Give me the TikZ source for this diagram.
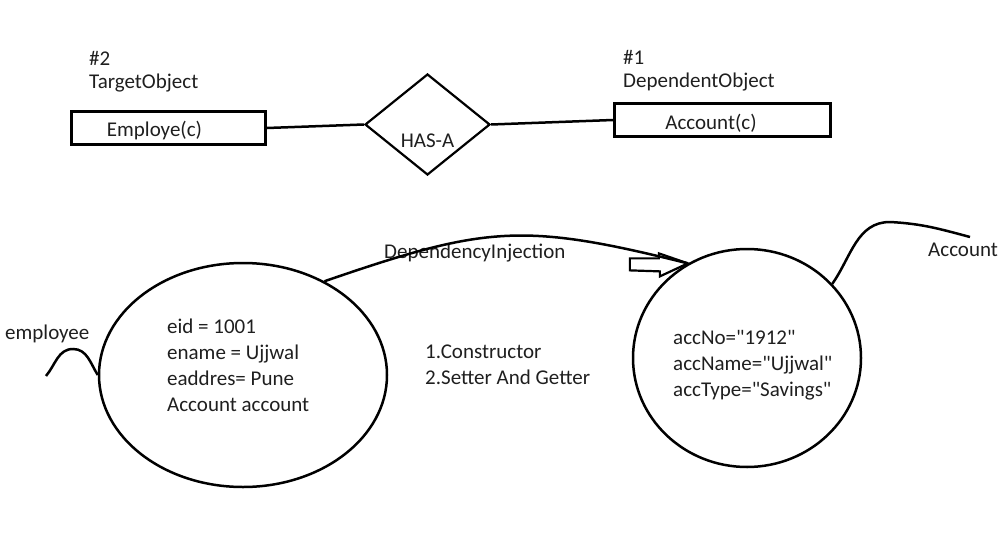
\documentclass[tikz,border=0pt]{standalone}
\usepackage{fontspec}
\setmainfont{Carlito}[Ligatures=TeXOff]
\usetikzlibrary{shapes.geometric}
\begin{document}
\begin{tikzpicture}[x=1pt,y=-1pt,
  txt/.style={font=\fontsize{21}{26}\selectfont, inner sep=0pt, anchor=west, align=left, text=black!88},
  ctxt/.style={font=\fontsize{21}{26}\selectfont, inner sep=0pt, text=black!88},
  box/.style={draw, line width=3pt, inner sep=0pt, minimum height=33pt},
  dia/.style={draw, diamond, line width=2.2pt, inner sep=0pt, minimum width=125pt, minimum height=101pt},
  blob/.style={draw, ellipse, line width=2.5pt, inner sep=0pt},
  conn/.style={line width=2.5pt},
  thin/.style={line width=2.2pt, line join=miter}]
\useasboundingbox (0,0) rectangle (1006,551);
% top row
\node[txt] (n2) at (89,58) {\#2};
\node[txt] (tobj) at (89,83) {TargetObject};
\node[txt] (n1) at (623,57) {\#1};
\node[txt] (dobj) at (623,82) {DependentObject};
\node[box, minimum width=194pt] (emp) at (168.5,128) {};
\node[ctxt] (empt) at (154.5,131) {Employe(c)};
\node[box, minimum width=216pt] (acc) at (722.5,120) {};
\node[ctxt] (acct) at (711,123) {Account(c)};
\node[dia] (has) at (427.5,124.5) {};
\node[ctxt] (hast) at (427.5,141) {HAS-A};
\draw[conn] (emp.east) -- (has.west);
\draw[conn] (has.east) -- (acc.west);
% bottom
\node[blob, minimum width=288pt, minimum height=224pt] (e) at (243,375) {};
\node[blob, minimum width=228pt, minimum height=218pt] (c) at (747,358) {};
\node[txt] (etext) at (167,365) {eid = 1001\\ename = Ujjwal\\eaddres= Pune\\Account account};
\node[txt] (ctext) at (673,365) {accNo="1912"\\accName="Ujjwal"\\accType="Savings"};
\node[txt] (ways) at (425,365) {1.Constructor\\2.Setter And Getter};
\node[txt] (di) at (384,253) {DependencyInjection};
\node[txt] (emplab) at (5,334) {employee};
\node[txt] (acclab) at (928,250) {Account};
\coordinate (tip) at (c.122.7);
\draw[conn] (e.49.5) to[out=19,in=166,looseness=1.2] (tip);
\draw[thin] (tip) -- ++(-29,-10) -- ++(0,5) -- ++(-29,0) -- ++(0,12) -- ++(30,1) -- ++(0,5) -- cycle;
\coordinate (lstart) at (46,376);
\coordinate (lpeak) at (73,349);
\draw[conn] (lstart) to[out=50,in=180] (lpeak) to[out=0,in=122] (e.west);
\coordinate (rpeak) at (890,222);
\coordinate (rend) at (970,237);
\draw[conn] (c.41.8) to[out=55,in=180] (rpeak) to[out=-3,in=165] (rend);
\end{tikzpicture}
\end{document}
